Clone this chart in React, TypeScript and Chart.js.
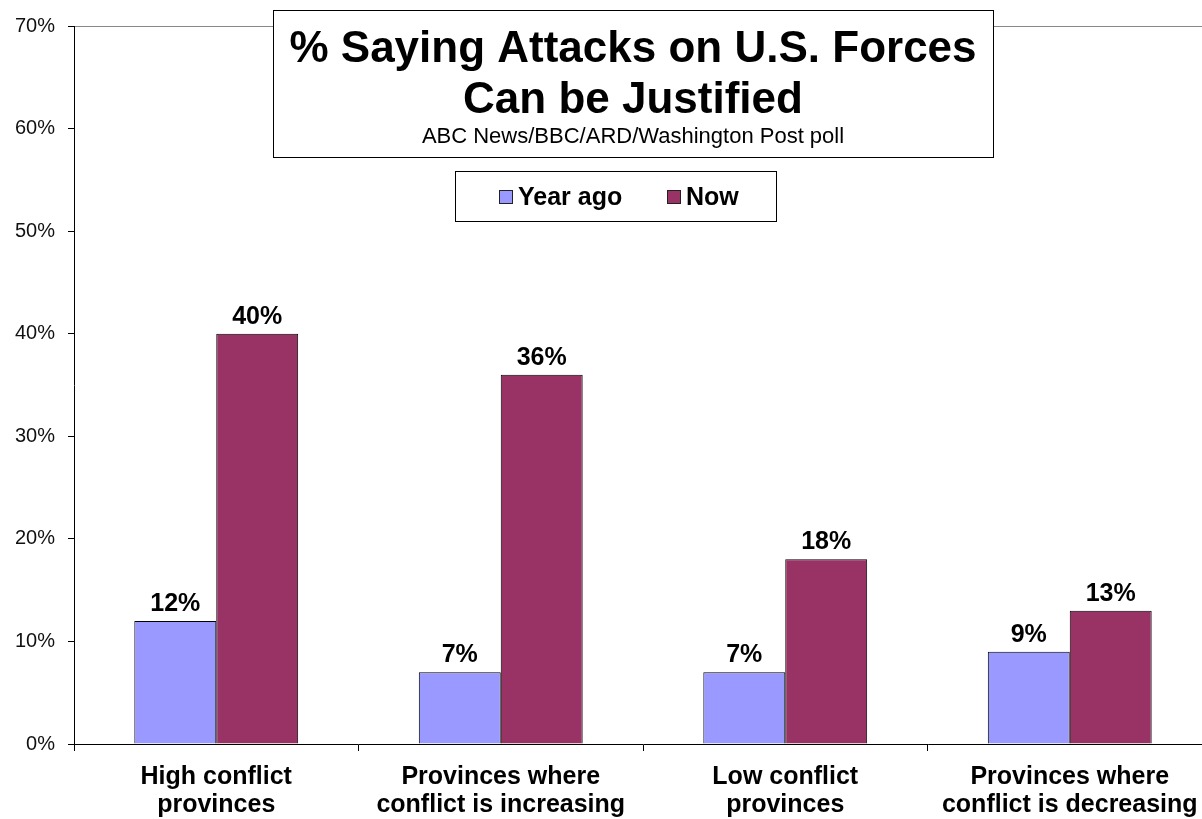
import React, { useEffect, useRef } from "react";
import { Chart, registerables } from "chart.js";

Chart.register(...registerables);

const categories: string[][] = [
  ["High conflict", "provinces"],
  ["Provinces where", "conflict is increasing"],
  ["Low conflict", "provinces"],
  ["Provinces where", "conflict is decreasing"],
];
const yearAgo: number[] = [12, 7, 7, 9];
const now: number[] = [40, 36, 18, 13];
const seriesNames: string[] = ["Year ago", "Now"];
const seriesColors: string[] = ["#9999FF", "#993366"];
const titleLines: string[] = ["% Saying Attacks on U.S. Forces", "Can be Justified"];
const subtitle = "ABC News/BBC/ARD/Washington Post poll";

const FONT = "Arial, 'Liberation Sans', Helvetica, sans-serif";

const overlayPlugin = {
  id: "overlay",
  afterDatasetsDraw(chart: any) {
    const ctx = chart.ctx;
    ctx.save();
    ctx.font = `bold 25px ${FONT}`;
    ctx.fillStyle = "#000";
    ctx.textAlign = "center";
    ctx.textBaseline = "alphabetic";
    chart.data.datasets.forEach((ds: any, i: number) => {
      const meta = chart.getDatasetMeta(i);
      meta.data.forEach((bar: any, j: number) => {
        ctx.fillText(ds.data[j] + "%", bar.x, bar.y - 10);
      });
    });
    ctx.restore();
  },
  afterDraw(chart: any) {
    const ctx = chart.ctx;
    ctx.save();
    // Title box
    ctx.fillStyle = "#fff";
    ctx.fillRect(273.5, 10.5, 720, 147);
    ctx.strokeStyle = "#000";
    ctx.lineWidth = 1;
    ctx.strokeRect(273.5, 10.5, 720, 147);
    ctx.fillStyle = "#000";
    ctx.textAlign = "center";
    ctx.textBaseline = "alphabetic";
    ctx.font = `bold 44px ${FONT}`;
    ctx.fillText(titleLines[0], 633, 62);
    ctx.fillText(titleLines[1], 633, 113);
    ctx.font = `22px ${FONT}`;
    ctx.fillText(subtitle, 633, 143);

    // Legend box
    ctx.fillStyle = "#fff";
    ctx.fillRect(455.5, 171.5, 321, 50);
    ctx.strokeStyle = "#000";
    ctx.strokeRect(455.5, 171.5, 321, 50);
    ctx.font = `bold 25px ${FONT}`;
    ctx.textAlign = "left";
    const xs = [499, 667];
    chart.data.datasets.forEach((ds: any, i: number) => {
      const x = xs[i];
      ctx.fillStyle = ds.backgroundColor;
      ctx.fillRect(x + 0.5, 190.5, 13, 13);
      ctx.strokeStyle = "#222";
      ctx.strokeRect(x + 0.5, 190.5, 13, 13);
      ctx.fillStyle = "#000";
      ctx.fillText(ds.label, x + 19, 205);
    });
    ctx.restore();
  },
};

export default function App() {
  const canvasRef = useRef<HTMLCanvasElement | null>(null);

  useEffect(() => {
    if (!canvasRef.current) return;
    const chart = new Chart(canvasRef.current, {
      type: "bar",
      data: {
        labels: categories,
        datasets: [
          {
            label: seriesNames[0],
            data: yearAgo,
            backgroundColor: seriesColors[0],
            borderColor: "#000",
            borderWidth: 1,
            categoryPercentage: 0.576,
            barPercentage: 1,
          },
          {
            label: seriesNames[1],
            data: now,
            backgroundColor: seriesColors[1],
            borderColor: "#000",
            borderWidth: 1,
            categoryPercentage: 0.576,
            barPercentage: 1,
          },
        ],
      },
      options: {
        animation: false,
        responsive: false,
        layout: { padding: { top: 26, right: 0, bottom: 0, left: 0 } },
        plugins: {
          legend: { display: false },
          title: { display: false },
          tooltip: { enabled: false },
        },
        scales: {
          x: {
            offset: true,
            grid: {
              display: true,
              drawOnChartArea: false,
              drawTicks: true,
              tickLength: 7,
              tickColor: "#000",
              offset: true,
            },
            border: { color: "#000", width: 1 },
            ticks: {
              color: "#000",
              padding: 12,
              maxRotation: 0,
              autoSkip: false,
              font: { family: FONT, size: 25, weight: "bold", lineHeight: 1.12 },
            },
            afterFit: (s: any) => {
              s.height = 75;
            },
          },
          y: {
            min: 0,
            max: 70,
            ticks: {
              stepSize: 10,
              color: "#111",
              padding: 13,
              font: { family: FONT, size: 20 },
              callback: (v: any) => v + "%",
            },
            grid: {
              color: (c: any) => (c.tick && c.tick.value === 70 ? "#888" : "rgba(0,0,0,0)"),
              tickColor: "#000",
              tickLength: 6,
              lineWidth: 1,
            },
            border: { color: "#000", width: 1 },
            afterFit: (s: any) => {
              s.width = 74;
            },
          },
        },
      },
      plugins: [overlayPlugin],
    });
    return () => chart.destroy();
  }, []);

  return (
    <div
      style={{
        position: "fixed",
        left: 0,
        top: 0,
        width: 1202,
        height: 819,
        overflow: "hidden",
        background: "#fff",
      }}
    >
      <canvas ref={canvasRef} width={1212} height={819} style={{ display: "block" }} />
    </div>
  );
}
